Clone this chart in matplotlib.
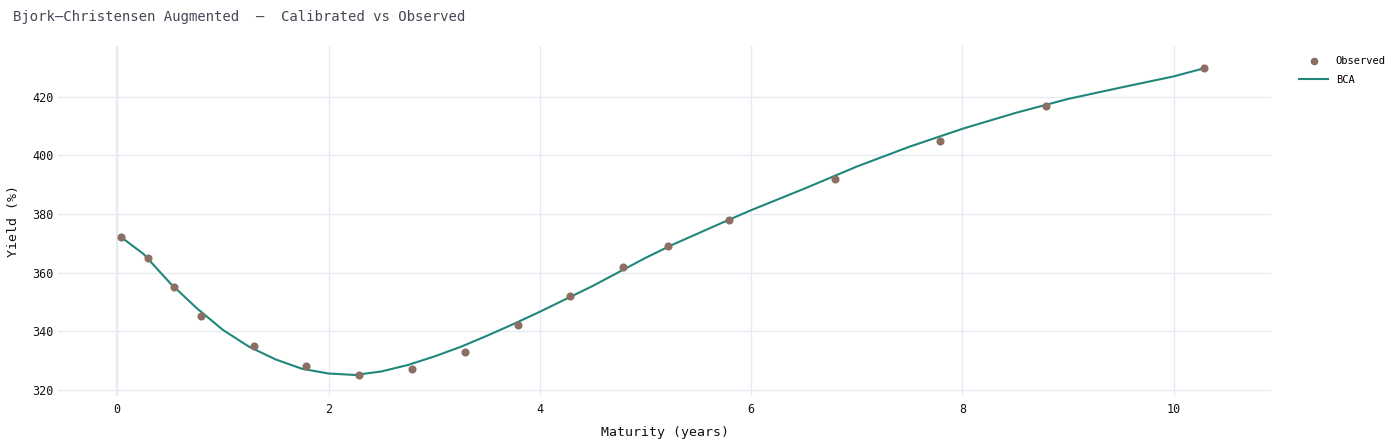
import numpy as np
import matplotlib

matplotlib.use("Agg")
import matplotlib.pyplot as plt
from matplotlib.lines import Line2D

# observed yields
obs_maturity = [0.04, 0.29, 0.54, 0.79, 1.29, 1.79, 2.29, 2.79, 3.29, 3.79,
                4.29, 4.79, 5.21, 5.79, 6.79, 7.79, 8.79, 10.29]
obs_yield = [372, 365, 355, 345, 335, 328, 325, 327, 333, 342,
             352, 362, 369, 378, 392, 405, 417, 430]

# calibrated BCA curve
bca_maturity = [0.04, 0.25, 0.5, 0.75, 1.0, 1.25, 1.5, 1.75, 2.0, 2.25,
                2.5, 2.75, 3.0, 3.25, 3.5, 3.75, 4.0, 4.25, 4.5, 4.75,
                5.0, 5.25, 5.5, 5.75, 6.0, 6.5, 7.0, 7.5, 8.0, 8.5,
                9.0, 9.5, 10.0, 10.29]
bca_yield = [372.0, 366.3, 356.4, 347.9, 340.4, 334.6, 330.3, 327.1, 325.5, 325.0,
             326.2, 328.4, 331.3, 334.6, 338.4, 342.4, 346.6, 351.0, 355.4, 360.2,
             365.0, 369.4, 373.4, 377.4, 381.3, 388.6, 396.2, 403.0, 409.1, 414.5,
             419.3, 423.2, 427.0, 429.8]

MONO = "DejaVu Sans Mono"
GRID = "#e6ebf3"
TEAL = "#1f877a"
BROWN = "#8d6e63"

plt.rcParams["font.family"] = MONO

fig = plt.figure(figsize=(13.99, 4.46), dpi=100)
ax = fig.add_axes([0.0415, 0.112, 0.867, 0.785])

ax.plot(bca_maturity, bca_yield, color=TEAL, lw=1.5, zorder=3)
ax.scatter(obs_maturity, obs_yield, s=34, color=BROWN, zorder=4, linewidths=0)

ax.set_xlim(-0.56, 10.92)
ax.set_ylim(317.8, 437.4)
ax.set_xticks([0, 2, 4, 6, 8, 10])
ax.set_yticks([320, 340, 360, 380, 400, 420])
ax.grid(True, color=GRID, lw=1.0)
ax.axvline(0, color=GRID, lw=1.6, zorder=0)
ax.set_axisbelow(True)
for s in ax.spines.values():
    s.set_visible(False)
ax.tick_params(length=0, labelsize=8.5, colors="#111111")
ax.tick_params(axis="y", pad=3)
ax.tick_params(axis="x", pad=5)

ax.set_xlabel("Maturity (years)", fontsize=9.5, labelpad=7, color="#111111")
ax.set_ylabel("Yield (%)", fontsize=9.5, labelpad=9, color="#111111")

fig.text(0.0093, 0.961, "Bjork\u2013Christensen Augmented  \u2013  Calibrated vs Observed",
         fontsize=10.1, color="#444a55", ha="left", va="center")

handles = [
    Line2D([], [], marker="o", ls="none", color=BROWN, markersize=5.5, markeredgewidth=0),
    Line2D([], [], color=TEAL, lw=1.5),
]
fig.legend(handles, ["Observed", "BCA"], loc="upper left",
           bbox_to_anchor=(0.922, 0.895), frameon=False, fontsize=7.5,
           handlelength=2.8, handletextpad=0.7, labelspacing=0.85)

fig.savefig("out.png", dpi=100)
